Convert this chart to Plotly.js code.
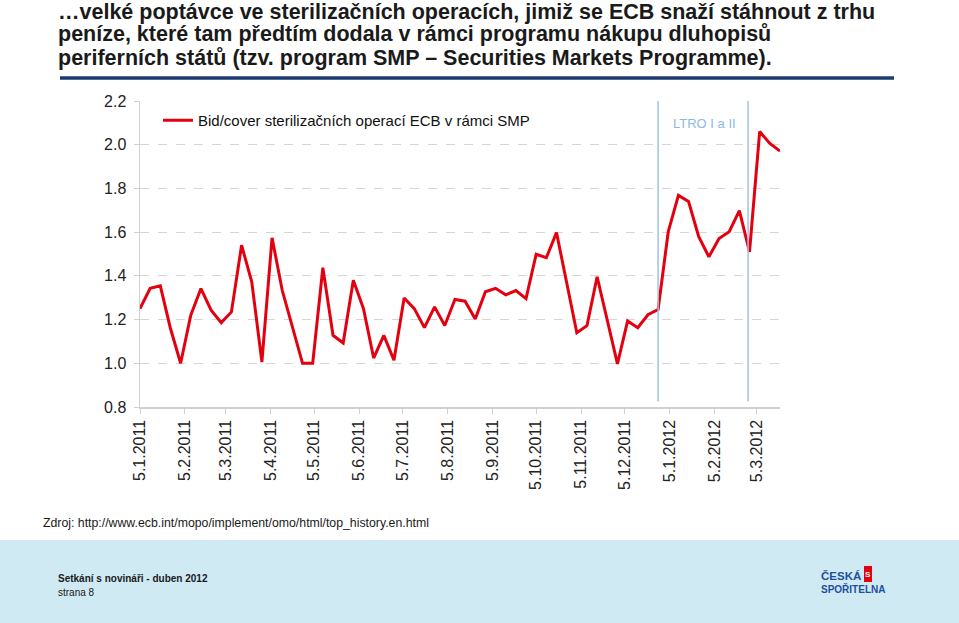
<!DOCTYPE html>
<html>
<head>
<meta charset="utf-8">
<script src="https://cdn.plot.ly/plotly-3.0.1.min.js"></script>
<style>html,body{margin:0;padding:0;background:#fff;}#chart{width:959px;height:623px;}</style>
</head>
<body>
<div id="chart"></div>
<script>
// ---- data ----
var dates = [
  '2011-01-05','2011-01-12','2011-01-19','2011-01-26','2011-02-02','2011-02-09','2011-02-16','2011-02-23',
  '2011-03-02','2011-03-09','2011-03-16','2011-03-23','2011-03-30','2011-04-06','2011-04-13','2011-04-20',
  '2011-04-27','2011-05-04','2011-05-11','2011-05-18','2011-05-25','2011-06-01','2011-06-08','2011-06-15',
  '2011-06-22','2011-06-29','2011-07-06','2011-07-13','2011-07-20','2011-07-27','2011-08-03','2011-08-10',
  '2011-08-17','2011-08-24','2011-08-31','2011-09-07','2011-09-14','2011-09-21','2011-09-28','2011-10-05',
  '2011-10-12','2011-10-19','2011-10-26','2011-11-02','2011-11-09','2011-11-16','2011-11-23','2011-11-30',
  '2011-12-07','2011-12-14','2011-12-21','2011-12-28','2012-01-04','2012-01-11','2012-01-18','2012-01-25',
  '2012-02-01','2012-02-08','2012-02-15','2012-02-22','2012-02-29','2012-03-07','2012-03-14','2012-03-21'
];
var bidCover = [
  1.250, 1.343, 1.354, 1.159, 1.000, 1.220, 1.342, 1.243,
  1.186, 1.235, 1.540, 1.373, 1.006, 1.574, 1.334, 1.166,
  1.000, 1.000, 1.437, 1.128, 1.093, 1.380, 1.250, 1.024,
  1.128, 1.014, 1.299, 1.250, 1.163, 1.258, 1.173, 1.292,
  1.284, 1.203, 1.327, 1.343, 1.313, 1.333, 1.296, 1.499,
  1.483, 1.598, null,  1.140, 1.172, 1.396, null,  0.997,
  1.194, 1.163, 1.222, 1.246, 1.602, 1.768, 1.740, 1.579,
  1.487, 1.571, 1.602, 1.698, 1.510, 2.060, 2.006, 1.971
];
var seriesName = 'Bid/cover sterilizačních operací ECB v rámci SMP';
var tickDates = ['2011-01-05','2011-02-05','2011-03-05','2011-04-05','2011-05-05','2011-06-05','2011-07-05',
  '2011-08-05','2011-09-05','2011-10-05','2011-11-05','2011-12-05','2012-01-05','2012-02-05','2012-03-05'];
var tickLabels = ['5.1.2011','5.2.2011','5.3.2011','5.4.2011','5.5.2011','5.6.2011','5.7.2011',
  '5.8.2011','5.9.2011','5.10.2011','5.11.2011','5.12.2011','5.1.2012','5.2.2012','5.3.2012'];
var ltroDates = ['2011-12-28','2012-02-28'];
var ltroLabel = 'LTRO I a II';
var titleLines = [
  '…velké poptávce ve sterilizačních operacích, jimiž se ECB snaží stáhnout z trhu',
  'peníze, které tam předtím dodala v rámci programu nákupu dluhopisů',
  'periferních států (tzv. program SMP – Securities Markets Programme).'
];
var sourceText = 'Zdroj: http://www.ecb.int/mopo/implement/omo/html/top_history.en.html';
var footerLine1 = 'Setkání s novináři - duben 2012';
var footerLine2 = 'strana 8';

// ---- layout helpers (pixel -> paper) ----
var L = 140, R = 780, T = 101, B = 407;
function px(x){ return (x - L) / (R - L); }
function py(y){ return (B - y) / (B - T); }
var FONT = 'Liberation Sans, Arial, sans-serif';

var trace = {
  x: dates, y: bidCover, type: 'scatter', mode: 'lines', name: seriesName,
  connectgaps: true,
  line: {color: '#e3000f', width: 3}
};

var shapes = [];
ltroDates.forEach(function(d){
  shapes.push({type:'line', xref:'x', yref:'y', x0:d, x1:d, y0:0.825, y1:2.2,
    line:{color:'#9dc3e6', width:1.5}});
});
// navy rule under the headline
shapes.push({type:'line', xref:'paper', yref:'paper', x0:px(60), x1:px(894), y0:py(78), y1:py(78),
  line:{color:'#1c3b73', width:3.5}});
// footer band
shapes.push({type:'rect', xref:'paper', yref:'paper', x0:px(0), x1:px(959), y0:py(623), y1:py(540),
  fillcolor:'#cfeaf2', line:{width:0}, layer:'below'});
// logo symbol
shapes.push({type:'rect', xref:'paper', yref:'paper', x0:px(864), x1:px(872), y0:py(582), y1:py(566),
  fillcolor:'#e3000f', line:{width:0}});

var titleY = [12, 34, 57.5];
var annotations = [];
titleLines.forEach(function(t, i){
  annotations.push({text:'<b>'+t+'</b>', xref:'paper', yref:'paper', x:px(56), y:py(titleY[i]),
    xanchor:'left', yanchor:'middle', showarrow:false,
    font:{family:FONT, size:21.5, color:'#1a1a1a'}});
});
annotations.push({text:ltroLabel, xref:'x', yref:'y', x:'2012-01-29', y:2.097, showarrow:false,
  xanchor:'center', yanchor:'middle', font:{family:FONT, size:13, color:'#8db8e3'}});
annotations.push({text:sourceText, xref:'paper', yref:'paper', x:px(41), y:py(523), showarrow:false,
  xanchor:'left', yanchor:'middle', font:{family:FONT, size:12.3, color:'#1a1a1a'}});
annotations.push({text:'<b>'+footerLine1+'</b>', xref:'paper', yref:'paper', x:px(56), y:py(578), showarrow:false,
  xanchor:'left', yanchor:'middle', font:{family:FONT, size:10, color:'#1a1a1a'}});
annotations.push({text:footerLine2, xref:'paper', yref:'paper', x:px(56), y:py(592), showarrow:false,
  xanchor:'left', yanchor:'middle', font:{family:FONT, size:10, color:'#1a1a1a'}});
annotations.push({text:'<b>ČESKÁ</b>', xref:'paper', yref:'paper', x:px(819), y:py(576), showarrow:false,
  xanchor:'left', yanchor:'middle', font:{family:FONT, size:11.5, color:'#1f4f9f'}});
annotations.push({text:'<b>SPOŘITELNA</b>', xref:'paper', yref:'paper', x:px(819), y:py(589), showarrow:false,
  xanchor:'left', yanchor:'middle', font:{family:FONT, size:10, color:'#1f4f9f'}});
annotations.push({text:'<b>S</b>', xref:'paper', yref:'paper', x:px(868), y:py(574), showarrow:false,
  xanchor:'center', yanchor:'middle', font:{family:FONT, size:8, color:'#ffffff'}});

var layout = {
  width: 959, height: 623,
  margin: {l: L, r: 959 - R, t: T, b: 623 - B, pad: 0},
  paper_bgcolor: '#ffffff', plot_bgcolor: '#ffffff',
  font: {family: FONT, size: 15, color: '#222'},
  showlegend: true,
  legend: {x: px(158), y: py(104), xanchor: 'left', yanchor: 'top', bgcolor: 'rgba(0,0,0,0)',
    font: {family: FONT, size: 15, color: '#111'}},
  xaxis: {
    type: 'date', range: ['2011-01-05', '2012-03-21'],
    tickmode: 'array', tickvals: tickDates, ticktext: tickLabels, tickangle: -90,
    ticks: 'outside', ticklen: 5, tickcolor: '#d0d0d0',
    showline: true, linecolor: '#d0d0d0', linewidth: 1.5,
    showgrid: false, zeroline: false,
    tickfont: {family: FONT, size: 16, color: '#222'}
  },
  yaxis: {
    range: [0.8, 2.2], dtick: 0.2, tick0: 0.8, tickformat: '.1f',
    ticks: 'outside', ticklen: 5, tickcolor: '#d0d0d0', ticklabelstandoff: 4,
    showline: true, linecolor: '#d0d0d0', linewidth: 1.5,
    showgrid: true, gridcolor: '#d6d6d6', griddash: 'dash', gridwidth: 1,
    zeroline: false,
    tickfont: {family: FONT, size: 16, color: '#222'}
  },
  shapes: shapes,
  annotations: annotations
};

Plotly.newPlot('chart', [trace], layout, {displayModeBar: false, staticPlot: true});
</script>
</body>
</html>
